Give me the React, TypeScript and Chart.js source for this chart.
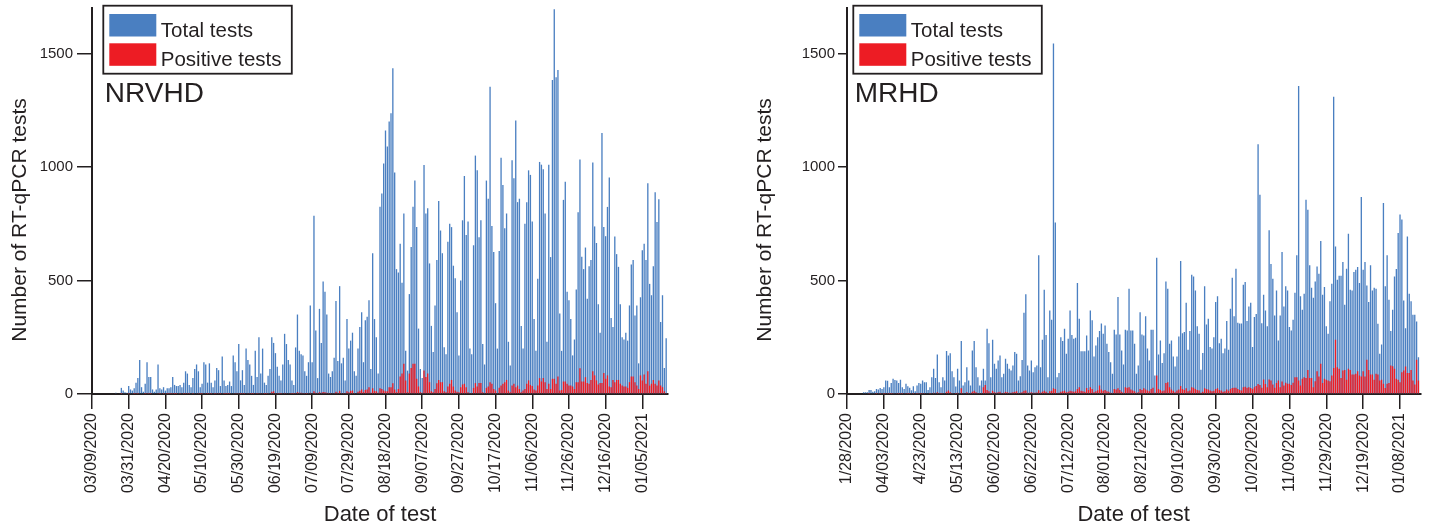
import React, { useEffect, useRef } from "react";
import { Chart, registerables } from "chart.js";

Chart.register(...registerables);

// ---------------- DATA ----------------
// NRVHD: daily number of RT-qPCR tests (index = day from first tick)
const nrvhdTotal = [
  0, 0, 0, 0, 0, 0, 0, 0, 0, 0,
  0, 0, 0, 5, 0, 3, 27, 15, 8, 5,
  35, 20, 15, 25, 50, 70, 150, 30, 10, 45,
  140, 75, 75, 20, 10, 20, 130, 25, 20, 30,
  15, 25, 25, 30, 75, 40, 35, 35, 40, 30,
  50, 100, 90, 40, 30, 70, 110, 130, 100, 30,
  45, 140, 130, 50, 135, 50, 30, 60, 115, 105,
  35, 165, 60, 35, 40, 55, 35, 170, 140, 100,
  220, 60, 105, 40, 200, 150, 130, 80, 40, 190,
  75, 250, 90, 200, 50, 40, 80, 110, 250, 225,
  180, 120, 80, 60, 130, 265, 220, 150, 130, 60,
  40, 205, 350, 190, 175, 170, 100, 80, 140, 390,
  140, 785, 280, 70, 375, 225, 495, 450, 350, 90,
  75, 100, 160, 410, 145, 475, 135, 160, 60, 330,
  200, 235, 270, 100, 80, 200, 295, 360, 140, 325,
  340, 413, 110, 620, 330, 250, 90, 825, 883, 1015,
  1160, 1090, 1200, 1236, 1435, 975, 550, 535, 662, 490,
  795, 190, 103, 440, 647, 825, 940, 735, 288, 110,
  70, 1008, 795, 818, 575, 300, 185, 390, 590, 850,
  720, 620, 206, 175, 670, 750, 735, 565, 510, 360,
  170, 500, 765, 960, 700, 760, 200, 175, 655, 1050,
  985, 690, 765, 220, 130, 940, 860, 1353, 740, 625,
  400, 200, 630, 1040, 920, 730, 795, 230, 125, 1030,
  950, 1205, 845, 860, 300, 200, 750, 845, 985, 965,
  760, 330, 190, 508, 1022, 1010, 990, 795, 230, 1010,
  603, 1383, 1695, 1395, 1427, 354, 190, 855, 935, 450,
  413, 330, 170, 240, 460, 800, 1033, 605, 550, 645,
  420, 563, 590, 1020, 738, 665, 395, 270, 1150, 735,
  695, 824, 953, 335, 295, 694, 616, 560, 395, 250,
  240, 270, 235, 390, 570, 590, 346, 390, 135, 426,
  633, 662, 590, 928, 485, 435, 563, 888, 758, 858,
  317, 435, 114, 246, 0,
];

const nrvhdPositive = [
  0, 0, 0, 0, 0, 0, 0, 0, 0, 0,
  0, 0, 0, 0, 0, 0, 1, 0, 0, 0,
  1, 0, 0, 1, 2, 1, 3, 0, 0, 1,
  2, 1, 1, 0, 0, 0, 2, 1, 0, 1,
  0, 1, 1, 1, 2, 1, 1, 0, 1, 0,
  1, 2, 2, 1, 0, 1, 3, 3, 2, 1,
  1, 3, 2, 1, 2, 1, 0, 1, 2, 2,
  1, 3, 1, 1, 1, 1, 0, 3, 2, 2,
  4, 1, 2, 1, 3, 2, 2, 1, 1, 3,
  1, 4, 2, 3, 1, 1, 2, 3, 10, 12,
  4, 2, 1, 1, 3, 5, 4, 3, 2, 1,
  1, 4, 8, 6, 5, 4, 2, 1, 3, 6,
  3, 12, 6, 2, 8, 5, 9, 8, 6, 2,
  2, 3, 4, 10, 5, 14, 4, 4, 2, 12,
  8, 14, 15, 4, 3, 10, 14, 20, 8, 18,
  20, 30, 6, 25, 14, 12, 5, 25, 22, 15,
  12, 12, 30, 30, 47, 20, 8, 22, 77, 90,
  133, 60, 8, 90, 114, 133, 133, 67, 33, 8,
  5, 104, 75, 90, 52, 12, 8, 22, 47, 62,
  52, 52, 12, 8, 33, 45, 62, 33, 15, 10,
  8, 30, 42, 45, 30, 8, 4, 4, 27, 48,
  33, 48, 48, 8, 4, 27, 33, 52, 45, 22,
  15, 4, 27, 37, 45, 52, 62, 15, 8, 37,
  45, 30, 37, 22, 8, 15, 22, 45, 60, 40,
  35, 20, 15, 37, 70, 55, 70, 52, 22, 45,
  22, 67, 67, 45, 77, 15, 18, 55, 55, 45,
  37, 37, 33, 22, 52, 52, 113, 55, 55, 74,
  48, 45, 62, 100, 82, 60, 42, 48, 48, 92,
  67, 82, 33, 30, 62, 52, 62, 62, 45, 37,
  33, 33, 27, 52, 77, 77, 52, 37, 22, 82,
  60, 86, 45, 100, 37, 45, 62, 45, 37, 60,
  37, 30, 12, 4, 0,
];

// MRHD: daily number of RT-qPCR tests
const mrhdTotal = [
  0, 0, 0, 0, 0, 0, 0, 0, 0, 8,
  8, 8, 18, 18, 10, 12, 22, 20, 26, 22,
  30, 60, 58, 30, 48, 67, 62, 60, 48, 63,
  30, 22, 45, 34, 28, 16, 34, 12, 37, 48,
  45, 60, 52, 52, 18, 30, 74, 111, 70, 174,
  52, 30, 74, 60, 189, 170, 180, 100, 74, 33,
  111, 60, 233, 37, 52, 118, 60, 37, 192, 233,
  118, 74, 37, 60, 111, 60, 287, 224, 74, 239,
  133, 111, 148, 170, 74, 89, 155, 133, 111, 104,
  126, 185, 177, 60, 78, 150, 358, 439, 126, 104,
  148, 96, 118, 126, 611, 118, 239, 459, 260, 74,
  368, 327, 1544, 755, 74, 92, 250, 233, 287, 177,
  243, 368, 260, 243, 248, 489, 331, 188, 188, 188,
  258, 192, 368, 325, 165, 214, 250, 277, 310, 265,
  302, 221, 185, 140, 89, 283, 262, 427, 262, 192,
  130, 283, 280, 464, 280, 280, 221, 89, 126, 360,
  262, 258, 342, 200, 148, 283, 283, 82, 600, 174,
  236, 136, 180, 496, 464, 221, 236, 165, 121, 165,
  253, 586, 268, 273, 402, 195, 277, 525, 518, 456,
  298, 265, 107, 181, 474, 306, 331, 207, 200, 250,
  405, 430, 224, 243, 180, 200, 321, 195, 375, 512,
  342, 552, 314, 310, 310, 481, 493, 321, 385, 402,
  207, 339, 352, 1100, 878, 312, 437, 368, 298, 721,
  573, 508, 346, 456, 236, 346, 625, 385, 474, 456,
  295, 280, 327, 446, 611, 1356, 430, 371, 441, 855,
  811, 567, 468, 424, 496, 562, 530, 674, 437, 471,
  298, 265, 409, 486, 1309, 650, 503, 521, 521, 581,
  393, 552, 706, 459, 456, 537, 547, 559, 489, 868,
  547, 581, 478, 405, 567, 456, 468, 464, 309, 177,
  218, 841, 474, 611, 415, 277, 371, 518, 550, 709,
  791, 768, 412, 290, 694, 441, 408, 349, 349, 319,
  162, 0,
];

const mrhdPositive = [
  0, 0, 0, 0, 0, 0, 0, 0, 0, 0,
  0, 0, 1, 0, 0, 0, 1, 0, 1, 0,
  1, 2, 2, 1, 1, 2, 3, 2, 1, 2,
  1, 0, 2, 1, 1, 0, 1, 0, 1, 2,
  1, 2, 2, 3, 0, 1, 3, 5, 3, 8,
  2, 1, 4, 3, 10, 15, 8, 4, 3, 1,
  6, 3, 25, 2, 3, 8, 4, 2, 10, 14,
  8, 4, 2, 4, 30, 40, 18, 12, 4, 14,
  8, 6, 8, 10, 4, 5, 10, 8, 6, 6,
  8, 10, 12, 4, 5, 8, 14, 15, 6, 5,
  8, 5, 6, 7, 16, 6, 10, 14, 10, 4,
  12, 14, 25, 22, 4, 5, 10, 12, 14, 8,
  10, 14, 12, 10, 12, 22, 30, 14, 12, 10,
  26, 18, 30, 22, 8, 12, 16, 37, 20, 14,
  18, 12, 10, 6, 4, 22, 20, 25, 18, 10,
  6, 30, 28, 30, 20, 15, 12, 5, 8, 22,
  18, 25, 20, 15, 12, 22, 28, 6, 82, 22,
  18, 12, 15, 48, 52, 30, 20, 14, 8, 15,
  20, 35, 22, 18, 25, 12, 15, 30, 28, 22,
  18, 15, 5, 10, 25, 22, 20, 15, 12, 14,
  22, 25, 18, 15, 10, 12, 20, 14, 22, 26,
  27, 28, 22, 18, 15, 30, 32, 28, 30, 26,
  22, 30, 35, 44, 40, 28, 64, 44, 30, 64,
  60, 42, 27, 48, 60, 30, 55, 37, 50, 45,
  45, 40, 50, 74, 74, 60, 37, 67, 74, 70,
  106, 70, 70, 30, 56, 100, 77, 133, 48, 67,
  63, 60, 56, 82, 115, 239, 118, 111, 71, 104,
  106, 63, 111, 106, 86, 86, 89, 100, 82, 77,
  100, 77, 151, 106, 86, 86, 63, 89, 86, 60,
  63, 45, 26, 45, 48, 126, 122, 111, 67, 63,
  52, 96, 104, 121, 92, 92, 106, 60, 42, 151,
  60, 0,
];

const nrvhdTickLabels = [
  "03/09/2020", "03/31/2020", "04/20/2020", "05/10/2020", "05/30/2020", "06/19/2020",
  "07/09/2020", "07/29/2020", "08/18/2020", "09/07/2020", "09/27/2020", "10/17/2020",
  "11/06/2020", "11/26/2020", "12/16/2020", "01/05/2021",
];
const mrhdTickLabels = [
  "1/28/2020", "04/03/2020", "4/23/2020", "05/13/2020", "06/02/2020", "06/22/2020",
  "07/12/2020", "08/01/2020", "08/21/2020", "09/10/2020", "09/30/2020", "10/20/2020",
  "11/09/2020", "11/29/2020", "12/19/2020", "01/08/2021",
];
const daysPerTick = 20;
const yTickValues = [0, 500, 1000, 1500];
const yMax = 1700;
const seriesLabels = ["Total tests", "Positive tests"];
const xTitle = "Date of test";
const yTitle = "Number of RT-qPCR tests";

// ---------------- STYLE ----------------
const FONT = "'Liberation Sans', Arial, Helvetica, sans-serif";
const INK = "#231f20";
const BLUE = "#4a7fc1";
const RED = "#ed1c24";
const H = 529;

type Panel = {
  name: string;
  total: number[];
  positive: number[];
  tickLabels: string[];
  canvasLeft: number;
  canvasWidth: number;
  areaLeft: number;
  areaRight: number;
  legendLeft: number;
  yTitleX: number;
  yTickLen: number;
  yTickPad: number;
};

const panels: Panel[] = [
  {
    name: "NRVHD",
    total: nrvhdTotal,
    positive: nrvhdPositive,
    tickLabels: nrvhdTickLabels,
    canvasLeft: 0,
    canvasWidth: 714,
    areaLeft: 92,
    areaRight: 668,
    legendLeft: 103.3,
    yTitleX: 20,
    yTickLen: 15,
    yTickPad: 4,
  },
  {
    name: "MRHD",
    total: mrhdTotal,
    positive: mrhdPositive,
    tickLabels: mrhdTickLabels,
    canvasLeft: 714,
    canvasWidth: 715,
    areaLeft: 133,
    areaRight: 706.3,
    legendLeft: 139.3,
    yTitleX: 51,
    yTickLen: 9,
    yTickPad: 3,
  },
];

const AREA_TOP = 8;
const AREA_BOTTOM = 394;

const decorPlugin = {
  id: "decor",
  afterDraw(chart: any, _args: any, o: any) {
    const ctx = chart.ctx as CanvasRenderingContext2D;
    const area = chart.chartArea;
    const bx = o.legendLeft;
    ctx.save();
    // legend box
    ctx.lineWidth = 1.8;
    ctx.strokeStyle = INK;
    ctx.strokeRect(bx, 5.7, 188.5, 68);
    ctx.fillStyle = BLUE;
    ctx.fillRect(bx + 6, 14, 47, 22.5);
    ctx.fillStyle = RED;
    ctx.fillRect(bx + 6, 43.3, 47, 22.5);
    ctx.fillStyle = INK;
    ctx.font = `20.5px ${FONT}`;
    ctx.textAlign = "left";
    ctx.textBaseline = "alphabetic";
    ctx.fillText(seriesLabels[0], bx + 57.5, 36.5);
    ctx.fillText(seriesLabels[1], bx + 57.5, 65.5);
    // panel name
    ctx.font = `28px ${FONT}`;
    ctx.fillText(o.name, bx + 1.5, 102.3);
    // x title
    ctx.font = `22px ${FONT}`;
    ctx.textAlign = "center";
    ctx.fillText(xTitle, (area.left + area.right) / 2, 521);
    // y title
    ctx.translate(o.yTitleX, 220);
    ctx.rotate(-Math.PI / 2);
    ctx.font = `21px ${FONT}`;
    ctx.textAlign = "center";
    ctx.textBaseline = "middle";
    ctx.fillText(yTitle, 0, 0);
    ctx.restore();
  },
};

function PanelChart({ p }: { p: Panel }) {
  const ref = useRef<HTMLCanvasElement>(null);
  useEffect(() => {
    const canvas = ref.current;
    if (!canvas) return;
    const chart = new Chart(canvas, {
      type: "bar",
      data: {
        labels: p.total.map((_, i) => i),
        datasets: [
          {
            label: seriesLabels[0],
            data: p.total,
            backgroundColor: BLUE,
            grouped: false,
            order: 2,
            categoryPercentage: 0.8,
            barPercentage: 0.9,
          } as any,
          {
            label: seriesLabels[1],
            data: p.positive,
            backgroundColor: RED,
            grouped: false,
            order: 1,
            categoryPercentage: 0.8,
            barPercentage: 0.9,
          } as any,
        ],
      },
      options: {
        responsive: false,
        animation: false,
        events: [],
        layout: {
          padding: {
            left: 0,
            right: p.canvasWidth - p.areaRight,
            top: AREA_TOP,
            bottom: 0,
          },
        },
        plugins: {
          legend: { display: false },
          tooltip: { enabled: false },
          decor: { name: p.name, legendLeft: p.legendLeft, yTitleX: p.yTitleX },
        } as any,
        scales: {
          x: {
            type: "category",
            offset: false,
            grid: {
              display: true,
              drawOnChartArea: false,
              drawTicks: true,
              tickLength: 15,
              color: INK,
              lineWidth: 1.5,
              offset: false,
            },
            border: { display: true, color: INK, width: 2 },
            ticks: {
              autoSkip: false,
              maxRotation: 90,
              minRotation: 90,
              padding: 4,
              color: INK,
              font: { family: FONT, size: 16 },
              callback: (_v: any, i: number) => p.tickLabels[i],
            },
            afterBuildTicks: (s: any) => {
              s.ticks = p.tickLabels.map((_, k) => ({ value: k * daysPerTick }));
            },
            afterFit: (s: any) => {
              s.height = H - AREA_BOTTOM;
              s.paddingLeft = 0;
              s.paddingRight = 0;
            },
          },
          y: {
            min: 0,
            max: yMax,
            stacked: false,
            grid: {
              display: true,
              drawOnChartArea: false,
              drawTicks: true,
              tickLength: p.yTickLen,
              color: INK,
              lineWidth: 1.5,
            },
            border: { display: true, color: INK, width: 2 },
            ticks: {
              padding: p.yTickPad,
              color: INK,
              font: { family: FONT, size: 15 },
              callback: (v: any) => String(v),
            },
            afterBuildTicks: (s: any) => {
              s.ticks = yTickValues.map((v) => ({ value: v }));
            },
            afterFit: (s: any) => {
              s.width = p.areaLeft;
              s.paddingTop = 0;
              s.paddingBottom = 0;
            },
          },
        } as any,
      },
      plugins: [decorPlugin as any],
    });
    return () => chart.destroy();
  }, []);
  return (
    <canvas
      ref={ref}
      width={p.canvasWidth}
      height={H}
      style={{ position: "absolute", left: p.canvasLeft, top: 0, width: p.canvasWidth, height: H }}
    />
  );
}

export default function App() {
  return (
    <div style={{ position: "absolute", left: 0, top: 0, width: 1429, height: H, background: "#fff" }}>
      {panels.map((p) => (
        <PanelChart key={p.name} p={p} />
      ))}
    </div>
  );
}
